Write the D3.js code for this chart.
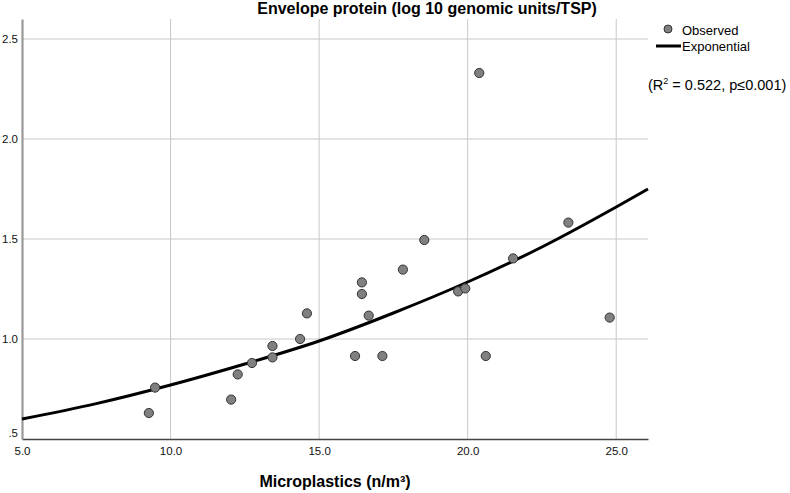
<!DOCTYPE html>
<html>
<head>
<meta charset="utf-8">
<script src="https://cdn.jsdelivr.net/npm/d3@7"></script>
<style>
  body { margin: 0; background: #fff; }
  svg { font-family: Arial, "Liberation Sans", sans-serif; }
</style>
</head>
<body>
<div id="chart"></div>
<script>
// observed points (microplastics vs envelope protein)
const obsX = [9.27, 9.48, 12.04, 12.26, 12.74, 13.43, 13.43, 14.36, 14.59, 16.21, 16.44, 16.44,
              16.67, 17.13, 17.82, 18.54, 19.68, 19.92, 20.39, 20.61, 21.53, 23.39, 24.78];
const obsY = [0.63, 0.757, 0.697, 0.823, 0.88, 0.965, 0.908, 1.0, 1.128, 0.915, 1.283, 1.225,
              1.117, 0.915, 1.347, 1.495, 1.238, 1.253, 2.33, 0.915, 1.403, 1.582, 1.107];

// exponential fit
const fitX = [5, 7.5, 10, 12.5, 15, 17.5, 20, 22.5, 25, 26.07];
const fitY = [0.60, 0.677, 0.77, 0.875, 0.99, 1.13, 1.285, 1.46, 1.66, 1.75];

const xTicks = [5, 10, 15, 20, 25];
const yTicks = [0.5, 1.0, 1.5, 2.0, 2.5];

const width = 790, height = 493;
const plotLeft = 22, plotRight = 648, plotTop = 19, plotBottom = 439;

const svg = d3.select("#chart").append("svg")
  .attr("width", width)
  .attr("height", height);

const x = d3.scaleLinear().domain([5, 26.07]).range([plotLeft, plotRight]);
const y = d3.scaleLinear().domain([0.5, 2.6]).range([plotBottom, plotTop]);

// grid
svg.append("g")
  .selectAll("line")
  .data(xTicks.slice(1))
  .enter().append("line")
    .attr("x1", d => x(d)).attr("x2", d => x(d))
    .attr("y1", plotTop).attr("y2", plotBottom)
    .attr("stroke", "#c8c8c8").attr("stroke-width", 1);

svg.append("g")
  .selectAll("line")
  .data(yTicks.slice(1))
  .enter().append("line")
    .attr("x1", plotLeft).attr("x2", plotRight)
    .attr("y1", d => y(d)).attr("y2", d => y(d))
    .attr("stroke", "#c8c8c8").attr("stroke-width", 1);

// axes
const xAxis = svg.append("g")
  .attr("transform", "translate(0," + plotBottom + ")")
  .call(d3.axisBottom(x).tickValues(xTicks).tickSize(0).tickPadding(8).tickFormat(d3.format(".1f")));
xAxis.select(".domain").attr("stroke", "#444").attr("stroke-width", 1.5);
xAxis.selectAll("text").attr("font-size", 11.5).attr("fill", "#111")
  .attr("font-family", "Arial, 'Liberation Sans', sans-serif");

const yAxis = svg.append("g")
  .attr("transform", "translate(" + plotLeft + ",0)")
  .call(d3.axisLeft(y).tickValues(yTicks).tickSize(0).tickPadding(4)
    .tickFormat(d => d3.format(".1f")(d).replace(/^0/, "")));
yAxis.select(".domain").attr("stroke", "#999").attr("stroke-width", 2.2);
yAxis.selectAll("text").attr("font-size", 11.5).attr("fill", "#111")
  .attr("font-family", "Arial, 'Liberation Sans', sans-serif")
  .attr("dy", d => d === 0.5 ? "-0.2em" : "0.32em");

// fit line
const line = d3.line()
  .x((d, i) => x(fitX[i]))
  .y(d => y(d))
  .curve(d3.curveMonotoneX);

svg.append("path")
  .datum(fitY)
  .attr("d", line)
  .attr("fill", "none")
  .attr("stroke", "#000")
  .attr("stroke-width", 3);

// points
svg.append("g")
  .selectAll("circle")
  .data(obsX)
  .enter().append("circle")
    .attr("cx", d => x(d))
    .attr("cy", (d, i) => y(obsY[i]))
    .attr("r", 4.6)
    .attr("fill", "#808080")
    .attr("stroke", "#333")
    .attr("stroke-width", 1);

// titles
svg.append("text")
  .attr("x", 427).attr("y", 14)
  .attr("text-anchor", "middle")
  .attr("font-size", 16).attr("font-weight", "bold")
  .text("Envelope protein (log 10 genomic units/TSP)");

svg.append("text")
  .attr("x", (plotLeft + plotRight) / 2).attr("y", 487)
  .attr("text-anchor", "middle")
  .attr("font-size", 16).attr("font-weight", "bold")
  .text("Microplastics (n/m³)");

// legend
svg.append("circle")
  .attr("cx", 668).attr("cy", 29).attr("r", 4)
  .attr("fill", "#808080").attr("stroke", "#333").attr("stroke-width", 1);
svg.append("text")
  .attr("x", 682).attr("y", 35)
  .attr("font-size", 13)
  .text("Observed");
svg.append("line")
  .attr("x1", 656).attr("x2", 681).attr("y1", 46).attr("y2", 46)
  .attr("stroke", "#000").attr("stroke-width", 3);
svg.append("text")
  .attr("x", 682).attr("y", 51)
  .attr("font-size", 13)
  .text("Exponential");

const note = svg.append("text")
  .attr("x", 648).attr("y", 90)
  .attr("font-size", 14.5);
note.append("tspan").text("(R");
note.append("tspan").attr("dy", -6).attr("font-size", 9).text("2");
note.append("tspan").attr("dy", 6).text(" = 0.522, p≤0.001)");
</script>
</body>
</html>
